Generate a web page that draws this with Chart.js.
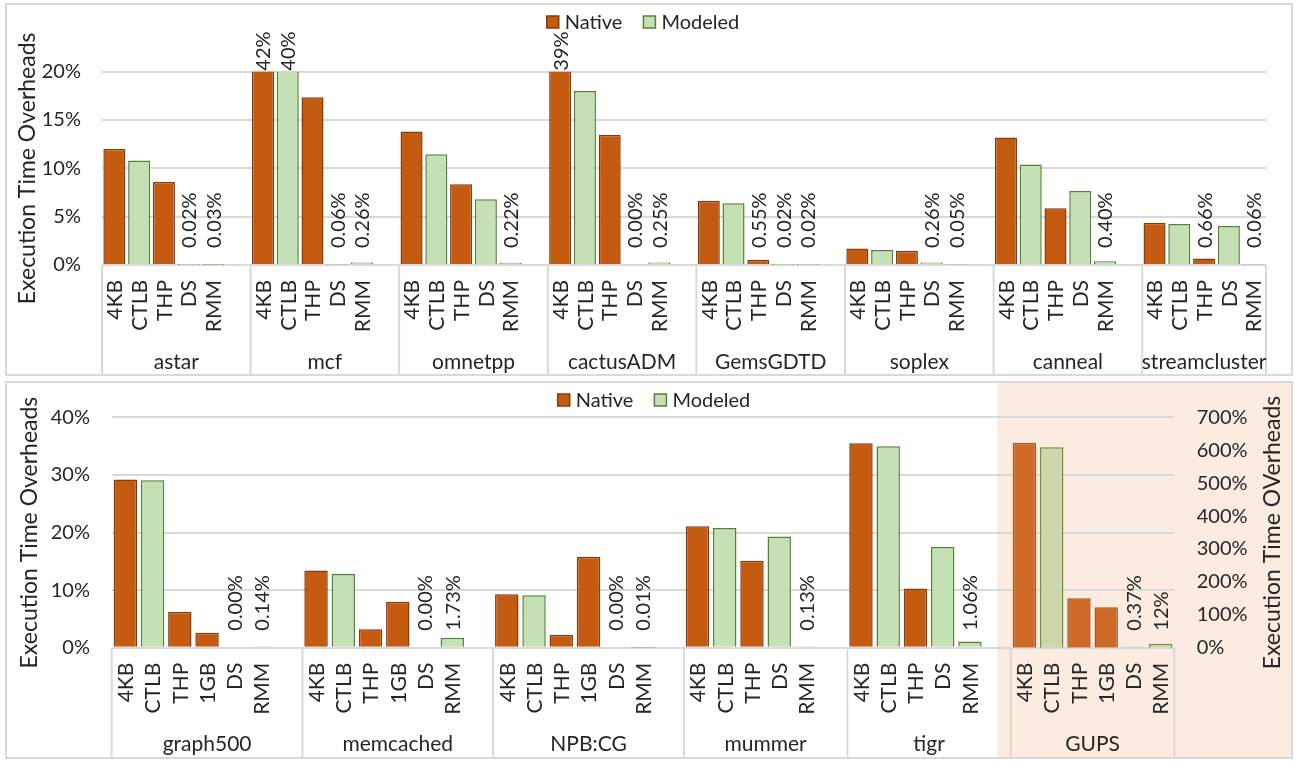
<!DOCTYPE html>
<html>
<head>
<meta charset="utf-8">
<script src="https://cdn.jsdelivr.net/npm/chart.js@4.4.1/dist/chart.umd.min.js"></script>
<style>
  html, body { margin: 0; background: #fff; }
  .panel { position: absolute; left: 5px; width: 1288px; border: 2px solid #D9D9D9; box-sizing: border-box; background: #fff; }
  #p1 { top: 3px; height: 373px; }
  #p2 { top: 381px; height: 378px; }
  canvas { display: block; }
</style>
</head>
<body>
<div class="panel" id="p1"><canvas id="topChart" width="1284" height="369"></canvas></div>
<div class="panel" id="p2"><canvas id="botChart" width="1284" height="374"></canvas></div>
<script>
// ---- data (values in %) ----
const topGroups  = ['astar', 'mcf', 'omnetpp', 'cactusADM', 'GemsGDTD', 'soplex', 'canneal', 'streamcluster'];
const topConfigs = ['4KB', 'CTLB', 'THP', 'DS', 'RMM'];
const top4KB  = [12.0, 42, 13.8, 39, 6.65, 1.72, 13.2, 4.35];
const topCTLB = [10.8, 40, 11.45, 18.0, 6.4, 1.55, 10.4, 4.24];
const topTHP  = [8.6, 17.35, 8.35, 13.45, 0.55, 1.48, 5.86, 0.66];
const topDS   = [0.02, 0.06, 6.8, 0.00, 0.02, 0.26, 7.65, 4.03];
const topRMM  = [0.03, 0.26, 0.22, 0.25, 0.02, 0.05, 0.40, 0.06];

const botGroups  = ['graph500', 'memcached', 'NPB:CG', 'mummer', 'tigr', 'GUPS'];
const botConfigs = ['4KB', 'CTLB', 'THP', '1GB', 'DS', 'RMM'];
const bot4KB  = [29.2, 13.4, 9.3, 21.1, 35.5, 622];
const botCTLB = [29.1, 12.8, 9.1, 20.8, 35.0, 609];
const botTHP  = [6.2, 3.2, 2.2, 15.1, 10.3, 150];
const bot1GB  = [2.6, 8.0, 15.8, null, null, 123];
const botDS   = [0.00, 0.00, 0.00, 19.3, 17.5, 0.37];
const botRMM  = [0.14, 1.73, 0.01, 0.13, 1.06, 12];
const rightAxisGroups = ['GUPS'];          // read against the right axis
const nativeConfigs = ['4KB', 'THP', '1GB']; // everything else is modeled

const FONT = 'Lato, "Liberation Sans", sans-serif';
const FS = 20;      // numbers, legend
const FS_CAT = 21;  // config + benchmark names
const FS_TITLE = 23;
const TXT = '#262626';
const GRID = '#D9D9D9';
const NAT_FILL = '#C55A11', NAT_LINE = '#843C0C';
const MOD_FILL = '#C5E0B4', MOD_LINE = '#548235';

// one slot per bar, plus an empty slot between benchmarks
function buildSlots(groups, configs, series) {
  const s = { labels: [], spans: [], native: [], modeled: [], nativeR: [], modeledR: [] };
  groups.forEach((g, gi) => {
    const start = s.labels.length;
    const right = rightAxisGroups.includes(g);
    configs.forEach((cfg, ci) => {
      const v = series[ci][gi];
      if (v === null || v === undefined) return;
      const nat = nativeConfigs.includes(cfg);
      s.labels.push(cfg);
      s.native.push(nat && !right ? v : null);
      s.modeled.push(!nat && !right ? v : null);
      s.nativeR.push(nat && right ? v : null);
      s.modeledR.push(!nat && right ? v : null);
    });
    if (gi < groups.length - 1) {
      s.labels.push('');
      s.native.push(null); s.modeled.push(null); s.nativeR.push(null); s.modeledR.push(null);
    }
    s.spans.push({ name: g, start: start, end: s.labels.length });
  });
  return s;
}

const topSlots = buildSlots(topGroups, topConfigs, [top4KB, topCTLB, topTHP, topDS, topRMM]);
const botSlots = buildSlots(botGroups, botConfigs, [bot4KB, botCTLB, botTHP, bot1GB, botDS, botRMM]);

// rotated value labels for tiny / clipped bars and for RMM
const valueLabels = {
  id: 'valueLabels',
  afterDatasetsDraw(chart) {
    const ctx = chart.ctx, labels = chart.data.labels;
    ctx.save();
    ctx.font = FS + 'px ' + FONT;
    ctx.fillStyle = TXT;
    ctx.textAlign = 'left';
    ctx.textBaseline = 'middle';
    chart.data.datasets.forEach((ds, di) => {
      const meta = chart.getDatasetMeta(di);
      const ys = chart.scales[ds.yAxisID];
      ds.data.forEach((v, i) => {
        if (v === null) return;
        const over = v > ys.max;
        if (!(labels[i] === 'RMM' || v < 1 || over)) return;
        const x = meta.data[i].x + 1;
        const y = over ? chart.chartArea.top - 1 : ys.getPixelForValue(0) - 17;
        const txt = v >= 10 ? Math.round(v) + '%' : v.toFixed(2) + '%';
        ctx.save();
        ctx.translate(x, y);
        ctx.rotate(-Math.PI / 2);
        ctx.fillText(txt, 0, 0);
        ctx.restore();
      });
    });
    ctx.restore();
  }
};

// config names (rotated) and benchmark boxes under the axis
const groupAxis = {
  id: 'groupAxis',
  afterDraw(chart, args, o) {
    const x = chart.scales.x, ctx = chart.ctx, area = chart.chartArea;
    const half = (x.getPixelForValue(1) - x.getPixelForValue(0)) / 2;
    ctx.save();
    ctx.fillStyle = TXT;
    ctx.font = FS_CAT + 'px ' + FONT;
    ctx.textAlign = 'right';
    ctx.textBaseline = 'middle';
    chart.data.labels.forEach((lab, i) => {
      if (!lab) return;
      ctx.save();
      ctx.translate(x.getPixelForValue(i) + 1, area.bottom + 15);
      ctx.rotate(-Math.PI / 2);
      ctx.fillText(lab, 0, 0);
      ctx.restore();
    });
    ctx.strokeStyle = GRID;
    ctx.lineWidth = 2;
    ctx.textAlign = 'center';
    o.spans.forEach((sp, k) => {
      const l = x.getPixelForValue(sp.start) - half;
      const r = x.getPixelForValue(sp.end - 1) + half;
      ctx.beginPath();
      ctx.moveTo(l, area.bottom); ctx.lineTo(l, chart.height);
      if (k === o.spans.length - 1) { ctx.moveTo(r, area.bottom); ctx.lineTo(r, chart.height); }
      ctx.stroke();
      ctx.fillText(sp.name, (l + r) / 2, o.labelY);
    });
    ctx.restore();
  }
};

// legend with bordered squares
const boxLegend = {
  id: 'boxLegend',
  afterDraw(chart, args, o) {
    const ctx = chart.ctx;
    const items = chart.data.datasets.slice(0, 2);
    const box = 12, gap = 6, sep = 21;
    ctx.save();
    ctx.font = FS + 'px ' + FONT;
    ctx.textBaseline = 'middle';
    ctx.textAlign = 'left';
    const widths = items.map(d => box + gap + ctx.measureText(d.label).width);
    let x = o.cx - (widths[0] + widths[1] + sep) / 2;
    items.forEach((d, i) => {
      ctx.fillStyle = d.backgroundColor;
      ctx.fillRect(x, o.cy - box / 2, box, box);
      ctx.strokeStyle = d.borderColor;
      ctx.lineWidth = 1.5;
      ctx.strokeRect(x, o.cy - box / 2, box, box);
      ctx.fillStyle = TXT;
      ctx.fillText(d.label, x + box + gap, o.cy + 1);
      x += widths[i] + sep;
    });
    ctx.restore();
  }
};

// shaded background behind the GUPS group
const shade = {
  id: 'shade',
  beforeDraw(chart, args, o) {
    if (!o.fromGroup) return;
    const sp = chart.options.plugins.groupAxis.spans.find(s => s.name === o.fromGroup);
    const x0 = chart.scales.x.getPixelForValue(sp.start - 1);
    const ctx = chart.ctx;
    ctx.save();
    ctx.fillStyle = '#FBEBE1';
    ctx.fillRect(x0, 0, chart.width - x0, chart.height);
    ctx.restore();
  }
};

// right axis title reads bottom to top, like the left one
const rightTitle = {
  id: 'rightTitle',
  afterDraw(chart, args, o) {
    if (!o.text) return;
    const ctx = chart.ctx, area = chart.chartArea;
    ctx.save();
    ctx.font = FS_TITLE + 'px ' + FONT;
    ctx.fillStyle = TXT;
    ctx.textAlign = 'center';
    ctx.textBaseline = 'middle';
    ctx.translate(o.x, (area.top + area.bottom) / 2);
    ctx.rotate(-Math.PI / 2);
    ctx.fillText(o.text, 0, 0);
    ctx.restore();
  }
};

function barSet(label, data, fill, line, axis, pct) {
  return {
    label: label, data: data, yAxisID: axis,
    backgroundColor: fill, borderColor: line, borderWidth: 1.5,
    grouped: false, barPercentage: pct, categoryPercentage: 1
  };
}

function xScale(h) {
  return {
    ticks: { display: false, autoSkip: false },
    grid: { display: false, drawTicks: false },
    border: { display: false },
    afterFit: s => { s.height = h; }
  };
}

function yScale(max, step, w, pad, titleText, titlePad, pos, showGrid) {
  return {
    position: pos, min: 0, max: max,
    ticks: { stepSize: step, padding: pad, callback: v => v + '%',
             font: { family: FONT, size: FS }, color: TXT },
    grid: { display: showGrid, color: GRID, lineWidth: 2, drawTicks: false },
    border: { display: false },
    title: { display: !!titleText, text: titleText, color: TXT,
             font: { family: FONT, size: FS_TITLE }, padding: { top: titlePad, bottom: 0 } },
    afterFit: s => { s.width = w; }
  };
}

new Chart(document.getElementById('topChart'), {
  type: 'bar',
  data: {
    labels: topSlots.labels,
    datasets: [
      barSet('Native', topSlots.native, NAT_FILL, NAT_LINE, 'y', 0.89),
      barSet('Modeled', topSlots.modeled, MOD_FILL, MOD_LINE, 'y', 0.89)
    ]
  },
  options: {
    responsive: false, animation: false, devicePixelRatio: 1,
    layout: { padding: { top: 66.7, right: 25, bottom: 0, left: 0 } },
    scales: {
      x: xScale(109),
      y: yScale(20, 5, 95, 21, 'Execution Time Overheads', 7, 'left', true)
    },
    plugins: {
      legend: { display: false },
      tooltip: { enabled: false },
      boxLegend: { cx: 636, cy: 17 },
      groupAxis: { spans: topSlots.spans, labelY: 357 },
      shade: {},
      rightTitle: {}
    }
  },
  plugins: [shade, valueLabels, groupAxis, boxLegend, rightTitle]
});

new Chart(document.getElementById('botChart'), {
  type: 'bar',
  data: {
    labels: botSlots.labels,
    datasets: [
      barSet('Native', botSlots.native, NAT_FILL, NAT_LINE, 'y', 0.86),
      barSet('Modeled', botSlots.modeled, MOD_FILL, MOD_LINE, 'y', 0.86),
      barSet('Native', botSlots.nativeR, '#CF6A29', '#A0592A', 'y2', 0.86),
      barSet('Modeled', botSlots.modeledR, '#CED7A9', '#6F8F42', 'y2', 0.86)
    ]
  },
  options: {
    responsive: false, animation: false, devicePixelRatio: 1,
    layout: { padding: { top: 31.7, right: 0, bottom: 0, left: 0 } },
    scales: {
      x: xScale(109.3),
      y: yScale(40, 10, 104.7, 21.7, 'Execution Time Overheads', 9, 'left', true),
      y2: yScale(700, 100, 116.7, 22.4, '', 0, 'right', false)
    },
    plugins: {
      legend: { display: false },
      tooltip: { enabled: false },
      boxLegend: { cx: 647, cy: 17 },
      groupAxis: { spans: botSlots.spans, labelY: 361 },
      shade: { fromGroup: 'GUPS' },
      rightTitle: { text: 'Execution Time OVerheads', x: 1266 }
    }
  },
  plugins: [shade, valueLabels, groupAxis, boxLegend, rightTitle]
});
</script>
</body>
</html>
